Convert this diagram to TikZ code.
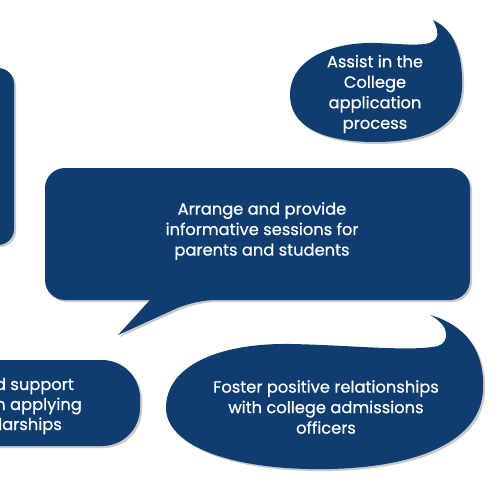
\documentclass[tikz,border=0pt]{standalone}
\usepackage{fontspec}
\setmainfont{Poppins}[FakeBold=0.6]
\usetikzlibrary{shadows}
\definecolor{navy}{RGB}{16,61,112}
\tikzset{
  bubble/.style={fill=navy, drop shadow={opacity=0.35, shadow xshift=2pt, shadow yshift=-2pt, fill=black!60}},
  label/.style={text=white, font=\fontsize{16.3}{20.5}\selectfont, align=center, inner sep=0pt}
}
\begin{document}
\begin{tikzpicture}[x=1pt,y=-1pt]
\useasboundingbox (0,0) rectangle (500,500);
\clip (0,0) rectangle (500,500);
% left box
\path[bubble, rounded corners=16] (-40,68) rectangle (14,245);
% top right bubble
\path[bubble] (433,20) .. controls (455,30) and (463,55) .. (462,87)
  .. controls (461,125) and (430,142) .. (375,142)
  .. controls (320,142) and (290,125) .. (290,95)
  .. controls (290,60) and (330,42) .. (375,43)
  .. controls (415,44) and (450,52) .. (433,20) -- cycle;
% center bubble
\path[bubble, rounded corners=20] (45,234) |- (470,168) |- (195,300) [sharp corners] -- (118,335) -- (150,300) [rounded corners=20] -| (45,234) -- cycle;
% bottom left box
\path[bubble, rounded corners=38] (-60,360) rectangle (140,446);
% bottom right bubble
\path[bubble] (430,315) .. controls (465,325) and (485,350) .. (483,390)
  .. controls (481,440) and (420,467) .. (330,469)
  .. controls (230,471) and (166,445) .. (166,408)
  .. controls (166,365) and (220,343) .. (290,344)
  .. controls (350,345) and (410,352) .. (438,346)
  .. controls (450,342) and (450,325) .. (430,315) -- cycle;
% texts
\node[label] (t1) at (375,94) {Assist in the\\College\\application\\process};
\node[label] (t2) at (262,231) {Arrange and provide\\informative sessions for\\parents and students};
\node[label] (t3) at (326,407) {Foster positive relationships\\with college admissions\\officers};
\node[label, anchor=base east] (t4a) at (74,390) {d support};
\node[label, anchor=base east] (t4b) at (82,410) {n applying};
\node[label, anchor=base east] (t4c) at (62,430) {larships};
\end{tikzpicture}
\end{document}
